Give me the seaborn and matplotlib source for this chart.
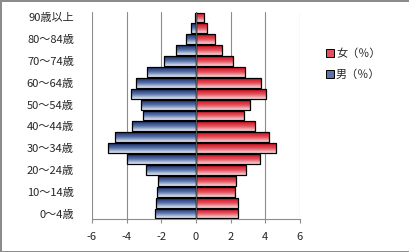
import numpy as np
import pandas as pd
import matplotlib
matplotlib.use("Agg")
import matplotlib.pyplot as plt
import seaborn as sns
from matplotlib.colors import LinearSegmentedColormap
from matplotlib.patches import Patch

# ---- data (0～4歳 first) ----
age_groups = ["0～4歳", "5～9歳", "10～14歳", "15～19歳", "20～24歳", "25～29歳",
              "30～34歳", "35～39歳", "40～44歳", "45～49歳", "50～54歳", "55～59歳",
              "60～64歳", "65～69歳", "70～74歳", "75～79歳", "80～84歳", "85～89歳",
              "90歳以上"]
male_pct = [2.38, 2.31, 2.25, 2.19, 2.88, 4.00, 5.10, 4.67, 3.69, 3.06,
            3.17, 3.77, 3.48, 2.85, 1.87, 1.15, 0.56, 0.27, 0.08]
female_pct = [2.40, 2.40, 2.23, 2.29, 2.87, 3.67, 4.63, 4.19, 3.38, 2.75,
              3.10, 4.06, 3.75, 2.81, 2.13, 1.48, 1.08, 0.63, 0.44]
x_ticks = [-6, -4, -2, 0, 2, 4, 6]
female_label = "女（％）"
male_label = "男（％）"

sns.set_style("white")
plt.rcParams['font.family'] = ['Noto Sans CJK JP', 'DejaVu Sans']
FS = 8

df = pd.DataFrame({"age": age_groups,
                   "male": [-v for v in male_pct],
                   "female": female_pct})
order = age_groups[::-1]

W, H = 410, 252
fig = plt.figure(figsize=(W / 100, H / 100), dpi=100)
fig.patch.set_facecolor("white")
fig.patch.set_edgecolor("#8c8c8c")
fig.patch.set_linewidth(2)
ax = fig.add_axes([92 / W, (H - 219) / H, 208 / W, 207 / H])

sns.barplot(data=df, x="female", y="age", order=order, orient="h",
            color="#d7101e", width=0.9, ax=ax, zorder=3)
n_f = len(ax.patches)
sns.barplot(data=df, x="male", y="age", order=order, orient="h",
            color="#1c3372", width=0.9, ax=ax, zorder=3)

ax.set_xlim(-6, 6)
ylim = ax.get_ylim()

cm_f = LinearSegmentedColormap.from_list("f", ["#d10a18", "#e2505c", "#f7dadd"])
cm_m = LinearSegmentedColormap.from_list("m", ["#162c68", "#5a73aa", "#e9eef8"])
grad = np.linspace(0, 1, 64).reshape(-1, 1)
for i, p in enumerate(ax.patches):
    bb = p.get_bbox()
    x0, x1 = sorted([bb.x0, bb.x1])
    y0, y1 = sorted([bb.y0, bb.y1])
    cm = cm_f if i < n_f else cm_m
    im = ax.imshow(grad, cmap=cm, aspect="auto", extent=(x0, x1, y1, y0),
                   origin="upper", zorder=3, interpolation="bilinear")
    im.set_clip_path(p)
    p.set_facecolor("none")
    p.set_edgecolor("black")
    p.set_linewidth(0.9)
    p.set_zorder(4)

ax.set_xlim(-6, 6)
ax.set_ylim(ylim)

# zero (category) axis line
ax.axvline(0, color="#555555", lw=0.8, zorder=5)

ax.set_xticks(x_ticks)
ax.set_xticklabels([str(t) for t in x_ticks])
ypos = list(range(len(order)))
ax.set_yticks(ypos)
ax.set_yticklabels([lab if (age_groups.index(lab) % 2 == 0) else "" for lab in order])
ax.tick_params(axis="y", length=0, pad=13, labelsize=FS)
ax.tick_params(axis="x", length=3, width=0.8, color="#8c8c8c", pad=6, labelsize=FS,
               direction="out", bottom=True)
ax.set_xlabel("")
ax.set_ylabel("")

ax.grid(axis="x", color="#8c8c8c", lw=0.8, zorder=0)
ax.set_axisbelow(True)
for s in ["top", "right", "left"]:
    ax.spines[s].set_visible(False)
ax.spines["bottom"].set_color("#8c8c8c")
ax.spines["bottom"].set_linewidth(0.8)

handles = [Patch(facecolor="#e2505c", edgecolor="black", linewidth=0.7),
           Patch(facecolor="#5a73aa", edgecolor="black", linewidth=0.7)]
fig.legend(handles, [female_label, male_label], loc="upper left",
           bbox_to_anchor=(316 / W, 1 - 38 / H), frameon=False,
           handlelength=0.7, handleheight=0.7, handletextpad=0.2,
           labelspacing=1.0, fontsize=FS)

fig.savefig("out.png", dpi=100)
